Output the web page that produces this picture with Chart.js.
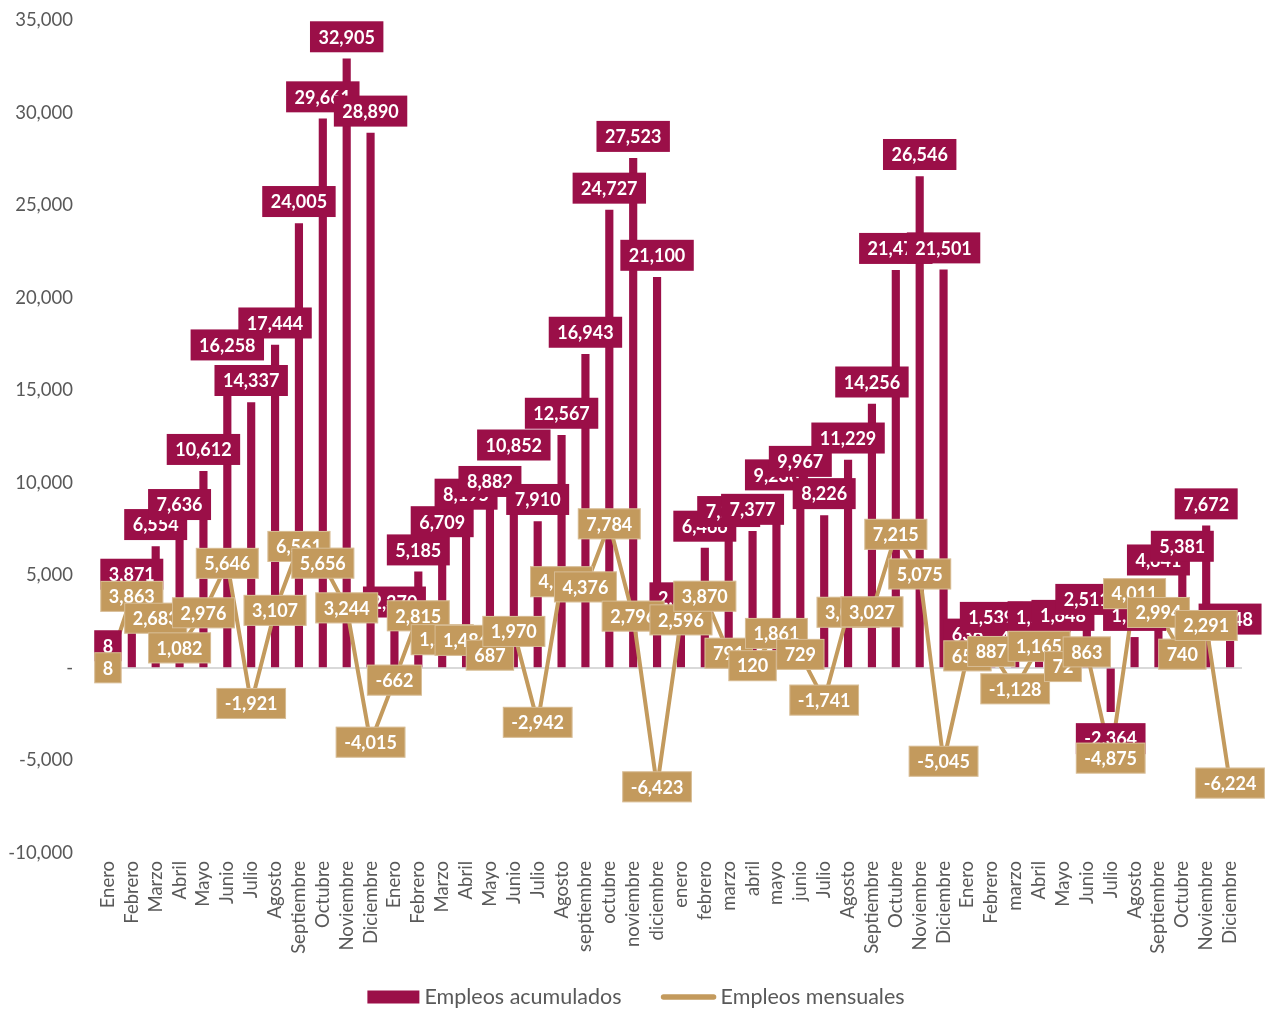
<!DOCTYPE html>
<html>
<head>
<meta charset="utf-8">
<script src="https://cdn.jsdelivr.net/npm/chart.js@4/dist/chart.umd.min.js"></script>
<style>
  body { margin: 0; background: #fff; }
  canvas { display: block; }
</style>
</head>
<body>
<canvas id="myChart" width="1270" height="1009"></canvas>
<script>
// datos
var categorias = [
  'Enero','Febrero','Marzo','Abril','Mayo','Junio','Julio','Agosto','Septiembre','Octubre','Noviembre','Diciembre',
  'Enero','Febrero','Marzo','Abril','Mayo','Junio','Julio','Agosto','septiembre','octubre','noviembre','diciembre',
  'enero','febrero','marzo','abril','mayo','junio','Julio','Agosto','Septiembre','Octubre','Noviembre','Diciembre',
  'Enero','Febrero','marzo','Abril','Mayo','Junio','Julio','Agosto','Septiembre','Octubre','Noviembre','Diciembre'
]
var acumulados = [
  8, 3871, 6554, 7636, 10612, 16258, 14337, 17444, 24005, 29661, 32905, 28890,
  2370, 5185, 6709, 8195, 8882, 10852, 7910, 12567, 16943, 24727, 27523, 21100,
  2596, 6466, 7257, 7377, 9238, 9967, 8226, 11229, 14256, 21471, 26546, 21501,
  636, 1539, 411, 1576, 1648, 2511, -2364, 1647, 4641, 5381, 7672, 1448
]
var mensuales = [
  8, 3863, 2683, 1082, 2976, 5646, -1921, 3107, 6561, 5656, 3244, -4015,
  -662, 2815, 1524, 1486, 687, 1970, -2942, 4657, 4376, 7784, 2796, -6423,
  2596, 3870, 791, 120, 1861, 729, -1741, 3003, 3027, 7215, 5075, -5045,
  652, 887, -1128, 1165, 72, 863, -4875, 4011, 2994, 740, 2291, -6224
]
var yTicks = [-10000, -5000, 0, 5000, 10000, 15000, 20000, 25000, 30000, 35000]

var vino = '#9B0F48'
var oro = '#C39A5D'
var gris = '#595959'

Chart.defaults.font.family = 'Lato, "Open Sans", sans-serif'

function fmt(v) {
  return v.toLocaleString('en-US')
}

// etiquetas con caja de color
var etiquetas = {
  id: 'etiquetas',
  afterDatasetsDraw(chart) {
    var ctx = chart.ctx
    ctx.save()
    ctx.font = 'bold 18px Lato'
    ctx.textAlign = 'center'
    ctx.textBaseline = 'middle'
    chart.data.datasets.forEach((ds, i) => {
      var meta = chart.getDatasetMeta(i)
      meta.data.forEach((el, j) => {
        var v = ds.data[j]
        var txt = fmt(v)
        var w = ctx.measureText(txt).width + 17
        var h = 31
        var x = el.x
        var y = el.y
        if (ds.type === 'bar') {
          y = v >= 0 ? el.y - 22 : el.y + 27
        }
        ctx.fillStyle = ds.type === 'bar' ? vino : oro
        ctx.fillRect(x - w / 2, y - h / 2, w, h)
        if (ds.type !== 'bar') {
          ctx.strokeStyle = 'rgba(255,255,255,0.35)'
          ctx.lineWidth = 1
          ctx.strokeRect(x - w / 2 + 0.5, y - h / 2 + 0.5, w - 1, h - 1)
        }
        ctx.fillStyle = '#fff'
        ctx.fillText(txt, x, y + 1)
      })
    })
    ctx.restore()
  },
  afterDraw(chart) {
    // leyenda
    var ctx = chart.ctx
    ctx.save()
    ctx.font = '21.5px Lato'
    ctx.textBaseline = 'middle'
    ctx.textAlign = 'left'
    var t1 = 'Empleos acumulados'
    var t2 = 'Empleos mensuales'
    var w1 = 52 + 5 + ctx.measureText(t1).width
    var w2 = 55 + 5 + ctx.measureText(t2).width
    var total = w1 + 39 + w2
    var x = chart.width / 2 - total / 2 + 1
    var y = 997
    ctx.fillStyle = vino
    ctx.fillRect(x, y - 6.5, 52, 13)
    ctx.fillStyle = gris
    ctx.fillText(t1, x + 57, y)
    x += w1 + 39
    ctx.strokeStyle = oro
    ctx.lineWidth = 5.5
    ctx.lineCap = 'round'
    ctx.beginPath()
    ctx.moveTo(x + 3, y)
    ctx.lineTo(x + 53, y)
    ctx.stroke()
    ctx.fillText(t2, x + 60, y)
    ctx.restore()
  }
}

var canvas = document.getElementById('myChart')
var myChart = new Chart(canvas, {
  data: {
    labels: categorias,
    datasets: [
      {
        type: 'bar',
        label: 'Empleos acumulados',
        data: acumulados,
        backgroundColor: vino,
        barThickness: 7.5,
        order: 2
      },
      {
        type: 'line',
        label: 'Empleos mensuales',
        data: mensuales,
        borderColor: oro,
        borderWidth: 4,
        pointRadius: 0,
        tension: 0,
        fill: false,
        order: 1
      }
    ]
  },
  options: {
    responsive: false,
    animation: false,
    layout: { padding: { top: 20, right: 28, left: 0, bottom: 0 } },
    plugins: {
      legend: { display: false },
      tooltip: { enabled: false }
    },
    scales: {
      x: {
        type: 'category',
        offset: true,
        grid: { display: false, drawTicks: false },
        border: { display: false },
        ticks: {
          autoSkip: false,
          maxRotation: 90,
          minRotation: 90,
          padding: 8,
          color: gris,
          font: { size: 18.5 }
        },
        afterFit: (s) => { s.height = 156 }
      },
      y: {
        min: yTicks[0],
        max: yTicks[yTicks.length - 1],
        afterBuildTicks: (s) => { s.ticks = yTicks.map(v => ({ value: v })) },
        grid: {
          drawTicks: false,
          lineWidth: 2,
          color: (c) => c.tick && c.tick.value === 0 ? '#D9D9D9' : 'rgba(0,0,0,0)'
        },
        border: { display: false },
        ticks: {
          padding: 23,
          color: gris,
          font: { size: 18.5 },
          callback: (v) => v === 0 ? '-' : fmt(v)
        },
        afterFit: (s) => {
          s.width = 96
          s.paddingTop = 0
          s.paddingBottom = 0
        }
      }
    }
  },
  plugins: [etiquetas]
})
</script>
</body>
</html>
